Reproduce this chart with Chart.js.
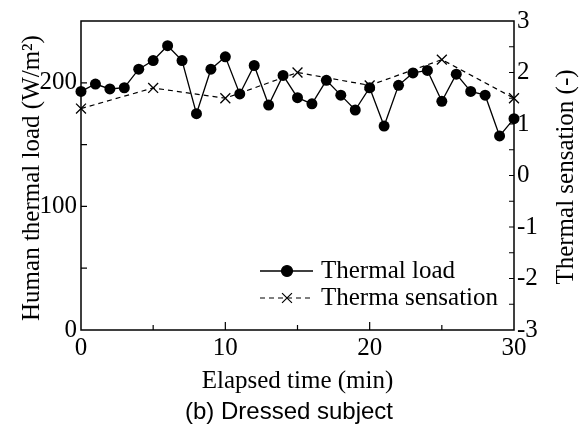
<!DOCTYPE html>
<html>
<head>
<meta charset="utf-8">
<script src="https://cdn.jsdelivr.net/npm/chart.js@4.4.1/dist/chart.umd.min.js"></script>
<style>
  body { margin: 0; background: #fff; }
  canvas { display: block; }
</style>
</head>
<body>
<canvas id="chart" width="579" height="428"></canvas>
<script>
// Thermal load every minute, thermal sensation vote every 5 minutes
const minutes = [0, 1, 2, 3, 4, 5, 6, 7, 8, 9, 10, 11, 12, 13, 14, 15, 16, 17, 18, 19, 20, 21, 22, 23, 24, 25, 26, 27, 28, 29, 30];
const thermalLoad = [193, 199, 195, 196, 211, 218, 230, 218, 175, 211, 221, 191, 214, 182, 206, 188, 183, 202, 190, 178, 196, 165, 198, 208, 210, 185, 207, 193, 190, 157, 171];
const voteMinutes = [0, 5, 10, 15, 20, 25, 30];
const thermalSensation = [1.3, 1.7, 1.5, 2.0, 1.75, 2.25, 1.5];

const xTicks = [0, 10, 20, 30];
const loadTicks = [0, 100, 200];
const sensationTicks = [-3, -2, -1, 0, 1, 2, 3];

const serif = 'Liberation Serif';
const tickFont = { family: serif, size: 25 };

function pairs(xs, ys) {
  return xs.map((x, i) => ({ x: x, y: ys[i] }));
}

// frame, inward tick marks, axis titles, legend and caption
const decorations = {
  id: 'decorations',
  afterDatasetsDraw(chart) {
    const ctx = chart.ctx;
    const a = chart.chartArea;
    const sx = chart.scales.x, sy = chart.scales.y, sy2 = chart.scales.y2;
    ctx.save();
    ctx.strokeStyle = '#000';
    ctx.lineWidth = 1.5;
    ctx.strokeRect(a.left, a.top, a.right - a.left, a.bottom - a.top);

    ctx.lineWidth = 1.2;
    ctx.beginPath();
    for (let v = 5; v < 30; v += 5) {
      const px = sx.getPixelForValue(v);
      const len = v % 10 === 0 ? 8 : 5;
      ctx.moveTo(px, a.bottom);
      ctx.lineTo(px, a.bottom - len);
    }
    for (let v = 50; v < 250; v += 50) {
      const py = sy.getPixelForValue(v);
      ctx.moveTo(a.left, py);
      ctx.lineTo(a.left + 6, py);
    }
    for (let v = -2.5; v < 3; v += 0.5) {
      const py = sy2.getPixelForValue(v);
      ctx.moveTo(a.right, py);
      ctx.lineTo(a.right - 5, py);
    }
    ctx.stroke();

    ctx.fillStyle = '#000';
    ctx.font = '25px "' + serif + '"';
    ctx.textBaseline = 'middle';
    ctx.textAlign = 'center';
    ctx.fillText('Elapsed time (min)', (a.left + a.right) / 2, 381);

    ctx.save();
    ctx.translate(32, 178);
    ctx.rotate(-Math.PI / 2);
    ctx.fillText('Human thermal load (W/m²)', 0, 0);
    ctx.restore();

    ctx.save();
    ctx.translate(566, 177);
    ctx.rotate(-Math.PI / 2);
    ctx.fillText('Thermal sensation (-)', 0, 0);
    ctx.restore();

    // legend
    const rows = [271, 298];
    chart.data.datasets.forEach((ds, i) => {
      const y = rows[i];
      ctx.save();
      ctx.lineWidth = ds.borderWidth;
      ctx.setLineDash(ds.borderDash || []);
      ctx.beginPath();
      ctx.moveTo(260, y);
      ctx.lineTo(313, y);
      ctx.stroke();
      ctx.restore();
      Chart.helpers.drawPoint(ctx, {
        pointStyle: ds.pointStyle,
        radius: ds.pointRadius,
        borderWidth: ds.pointBorderWidth || 1.2
      }, 287, y);
      ctx.textAlign = 'left';
      ctx.fillText(ds.label, 321, y);
    });

    ctx.font = '24px "Liberation Sans"';
    ctx.textAlign = 'center';
    ctx.fillText('(b) Dressed subject', 289, 412);
    ctx.restore();
  }
};

new Chart(document.getElementById('chart'), {
  type: 'line',
  data: {
    datasets: [{
      label: 'Thermal load',
      data: pairs(minutes, thermalLoad),
      yAxisID: 'y',
      clip: false,
      borderColor: '#000',
      backgroundColor: '#000',
      borderWidth: 1.3,
      pointStyle: 'circle',
      pointRadius: 5.5,
      pointBorderWidth: 0,
      pointBackgroundColor: '#000',
      tension: 0
    }, {
      label: 'Therma sensation',
      data: pairs(voteMinutes, thermalSensation),
      yAxisID: 'y2',
      clip: false,
      borderColor: '#000',
      backgroundColor: '#000',
      borderWidth: 1.2,
      borderDash: [5, 4],
      pointStyle: 'crossRot',
      pointRadius: 7,
      pointBorderWidth: 1.3,
      tension: 0
    }]
  },
  options: {
    responsive: false,
    animation: false,
    devicePixelRatio: 1,
    layout: { padding: { top: 21, left: 0, right: 0, bottom: 0 } },
    plugins: {
      legend: { display: false },
      tooltip: { enabled: false }
    },
    scales: {
      x: {
        type: 'linear',
        min: 0,
        max: 30,
        grid: { display: false, drawTicks: false },
        border: { display: false },
        ticks: {
          stepSize: 5,
          autoSkip: false,
          maxRotation: 0,
          padding: 3,
          color: '#000',
          font: tickFont,
          callback: v => xTicks.includes(v) ? String(v) : ''
        },
        afterFit: s => { s.height = 98; }
      },
      y: {
        position: 'left',
        min: 0,
        max: 250,
        grid: { display: false, drawTicks: false },
        border: { display: false },
        ticks: {
          stepSize: 50,
          autoSkip: false,
          padding: 4,
          color: '#000',
          font: tickFont,
          callback: v => loadTicks.includes(v) ? String(v) : ''
        },
        afterFit: s => { s.width = 81; }
      },
      y2: {
        position: 'right',
        min: -3,
        max: 3,
        grid: { display: false, drawTicks: false },
        border: { display: false },
        ticks: {
          stepSize: 0.5,
          autoSkip: false,
          padding: 3,
          color: '#000',
          font: tickFont,
          callback: v => sensationTicks.includes(v) ? String(v) : ''
        },
        afterFit: s => { s.width = 65; }
      }
    }
  },
  plugins: [decorations]
});
</script>
</body>
</html>
